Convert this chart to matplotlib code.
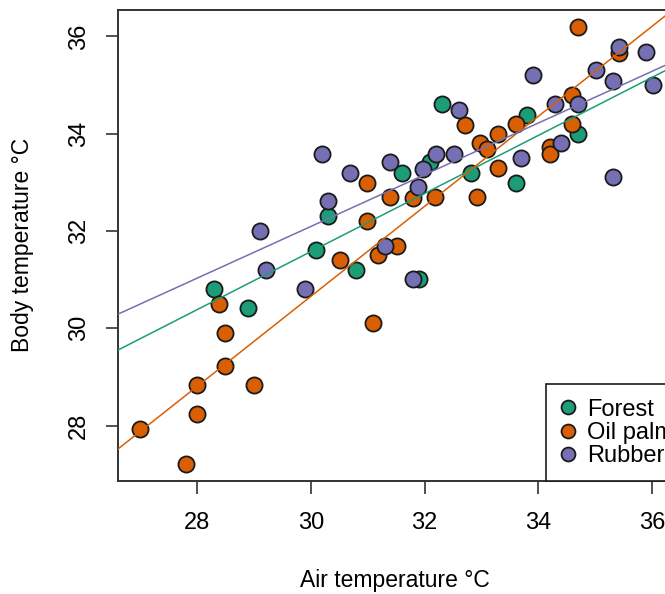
import numpy as np
import matplotlib
matplotlib.use("Agg")
from matplotlib import pyplot as plt
from matplotlib.lines import Line2D

plt.rcParams["font.family"] = ["Liberation Sans", "DejaVu Sans"]

# air / body temperature per habitat
forest_air = [28.29, 28.90, 30.10, 30.31, 30.79, 31.61, 31.90, 32.10, 32.30, 32.81, 33.60, 33.81, 34.70]
forest_body = [30.80, 30.41, 31.62, 32.31, 31.20, 33.20, 31.02, 33.41, 34.61, 33.20, 32.99, 34.39, 34.00]

oilpalm_air = [26.99, 27.81, 28.00, 28.00, 28.39, 28.49, 28.49, 29.00, 30.51, 30.99,
               30.99, 31.10, 31.19, 31.51, 31.40, 31.79, 32.19, 32.71, 32.92, 32.97,
               33.10, 33.30, 33.30, 33.60, 34.20, 34.20, 34.60, 34.60, 34.70, 35.42]
oilpalm_body = [27.94, 27.22, 28.25, 28.84, 30.50, 29.91, 29.23, 28.84, 31.40, 32.99,
                32.21, 30.12, 31.51, 31.69, 32.69, 32.67, 32.69, 34.17, 32.69, 33.80,
                33.68, 34.00, 33.29, 34.19, 33.73, 33.58, 34.79, 34.19, 36.19, 35.66]

rubber_air = [29.11, 29.21, 29.90, 30.20, 30.31, 30.69, 31.30, 31.40, 31.79, 31.89,
              31.98, 32.20, 32.51, 32.60, 33.70, 33.91, 34.29, 34.40, 34.70, 35.01,
              35.32, 35.32, 35.42, 35.90, 36.01]
rubber_body = [32.00, 31.20, 30.80, 33.59, 32.61, 33.20, 31.69, 33.41, 31.02, 32.91,
               33.27, 33.59, 33.59, 34.48, 33.50, 35.20, 34.61, 33.80, 34.61, 35.30,
               35.08, 33.11, 35.78, 35.68, 35.00]

habitats = ["Forest", "Oil palm", "Rubber"]
colors = ["#1B9E77", "#D95F02", "#7570B3"]
xticks = [28, 30, 32, 34, 36]
yticks = [28, 30, 32, 34, 36]

fig = plt.figure(figsize=(6.65, 5.94), dpi=100)
ax = fig.add_axes([0.1774, 0.190, 0.833, 0.793])

groups = [(forest_air, forest_body), (oilpalm_air, oilpalm_body), (rubber_air, rubber_body)]
# points first, then the fitted lines on top (as abline does in R)
for (x, y), col in zip(groups, colors):
    ax.scatter(x, y, s=135, c=col, edgecolors="#1a1a1a", linewidths=1.3, zorder=2)
for (x, y), col in zip(groups, colors):
    slope, intercept = np.polyfit(x, y, 1)
    ax.axline((0, intercept), slope=slope, color=col, lw=1.1, zorder=3)

ax.set_xlim(26.61, 36.35)
ax.set_ylim(26.86, 36.54)
ax.set_xticks(xticks)
ax.set_yticks(yticks)
ax.tick_params(axis="both", labelsize=17, length=9, width=1.2, color="#333333", pad=13)
ax.tick_params(axis="y", labelrotation=90, pad=11)
for lab in ax.get_yticklabels():
    lab.set_va("center")
for s in ax.spines.values():
    s.set_linewidth(1.4)
    s.set_color("#333333")

fig.text(395 / 665, 1 - 580 / 594, "Air temperature °C", fontsize=16.5, ha="center", va="center")
fig.text(23 / 665, 1 - 245 / 594, "Body temperature °C", fontsize=16.5, ha="center", va="center",
         rotation=90)

handles = [Line2D([], [], ls="none", marker="o", markersize=10, markerfacecolor=c,
                  markeredgecolor="#1a1a1a", markeredgewidth=1.3) for c in colors]
# box sits at the lower right, its right side runs past the cropped edge
leg = ax.legend(handles, habitats, loc="lower left", bbox_to_anchor=(0.7726, 0), borderaxespad=0,
                fontsize=17, fancybox=False, framealpha=1, labelspacing=0.05,
                handlelength=0.7, handletextpad=0.45, borderpad=0.6)
leg.get_frame().set_edgecolor("#1a1a1a")
leg.get_frame().set_linewidth(1.2)

fig.savefig("out.png", dpi=100)
